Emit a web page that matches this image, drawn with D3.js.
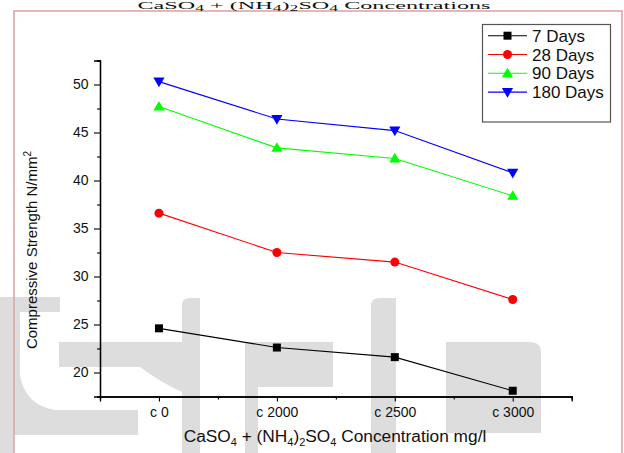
<!DOCTYPE html>
<html>
<head>
<meta charset="utf-8">
<script src="https://cdn.jsdelivr.net/npm/d3@7"></script>
<style>
  html, body { margin: 0; padding: 0; background: #fff; }
  svg { display: block; }
  text { font-family: "Liberation Sans", Arial, sans-serif; fill: #111; }
</style>
</head>
<body>
<svg id="chart" width="624" height="453"></svg>
<script>
// ---- data ----
const categories = ["c 0", "c 2000", "c 2500", "c 3000"];
const seriesNames = ["7 Days", "28 Days", "90 Days", "180 Days"];
const days7   = [24.6, 22.6, 21.6, 18.1];
const days28  = [36.6, 32.5, 31.5, 27.6];
const days90  = [47.7, 43.4, 42.3, 38.4];
const days180 = [50.3, 46.4, 45.2, 40.8];
const yTicks = [20, 25, 30, 35, 40, 45, 50];
const seriesColors = ["#000000", "#ff0000", "#00ff00", "#0000ff"];
const seriesSymbols = ["square", "circle", "triUp", "triDown"];

const series = [days7, days28, days90, days180].map((vals, i) => ({
  name: seriesNames[i], values: vals, color: seriesColors[i], symbol: seriesSymbols[i]
}));

const svg = d3.select("#chart");

// ---- background watermark & frame ----
const wm = svg.append("g").attr("fill", "#dddddd").attr("stroke", "none");
wm.append("path").attr("d", "M0,297 H60 V312 H20 V375 Q25,405 55,410 H138 V435 H14 V453 H0 Z");
wm.append("path").attr("d", "M59,342 H200 V367 H182 V392 Q160,382 140,367 H59 Z");
wm.append("path").attr("d", "M182,305 Q182,298 190,298 H200 V453 H182 Z");
wm.append("path").attr("d", "M245,342 H333 V387 H258 V453 H245 Z");
wm.append("path").attr("d", "M371,306 Q371,298 380,298 H396 V453 H371 Z");
wm.append("path").attr("d", "M446,342 H530 Q541,342 541,353 V433 H446 Z");

svg.append("rect")
  .attr("x", 14).attr("y", 11).attr("width", 608).attr("height", 460)
  .attr("fill", "none").attr("stroke", "#e2a4a4").attr("stroke-width", 1.6);

// ---- title (kept fully visible in the thin strip above the frame) ----
const title = svg.append("text")
  .attr("transform", "translate(314,9) scale(2.2,1)")
  .attr("text-anchor", "middle")
  .style("font-family", "'Liberation Serif', 'DejaVu Serif', serif")
  .style("font-size", "11px");
title.append("tspan").text("CaSO");
title.append("tspan").attr("dy", 1.5).style("font-size", "8px").text("4");
title.append("tspan").attr("dy", -1.5).text(" + (NH");
title.append("tspan").attr("dy", 1.5).style("font-size", "8px").text("4");
title.append("tspan").attr("dy", -1.5).text(")");
title.append("tspan").attr("dy", 1.5).style("font-size", "8px").text("2");
title.append("tspan").attr("dy", -1.5).text("SO");
title.append("tspan").attr("dy", 1.5).style("font-size", "8px").text("4");
title.append("tspan").attr("dy", -1.5).text(" Concentrations");

// ---- scales ----
const x = d3.scaleLinear().domain([-0.5, categories.length - 0.5]).range([100, 571.7]);
const y = d3.scaleLinear().domain([17.5, 52.5]).range([396.5, 60.5]);

// ---- axes ----
const yAxis = d3.axisLeft(y).tickValues(yTicks).tickSize(6).tickPadding(5.5).tickFormat(d3.format("d"));
const yMinor = d3.axisLeft(y).tickValues(d3.range(17.5, 53, 5)).tickSize(3).tickFormat("");
const xAxis = d3.axisBottom(x).tickValues(d3.range(categories.length)).tickSize(5).tickPadding(5.5)
  .tickFormat(i => categories[i]);
const xMinor = d3.axisBottom(x).tickValues(d3.range(-0.5, categories.length, 1)).tickSize(3).tickFormat("");

function styleAxis(g) {
  g.select(".domain").attr("stroke", "#000").attr("stroke-width", 1.3);
  g.selectAll(".tick line").attr("stroke", "#000").attr("stroke-width", 1.1);
  g.selectAll(".tick text").style("font-size", "14px")
    .style("font-family", "'Liberation Sans', Arial, sans-serif").attr("fill", "#111");
}

svg.append("g").attr("transform", "translate(100,0)").call(yMinor).call(styleAxis);
svg.append("g").attr("transform", "translate(100,0)").call(yAxis).call(styleAxis);
svg.append("g").attr("transform", "translate(0,396.5)").call(xMinor).call(styleAxis);
svg.append("g").attr("transform", "translate(0,396.5)").call(xAxis).call(styleAxis);

// ---- axis titles ----
const xt = svg.append("text").attr("x", 335).attr("y", 442).attr("text-anchor", "middle")
  .style("font-size", "17.3px");
xt.append("tspan").text("CaSO");
xt.append("tspan").attr("dy", 4).style("font-size", "11px").text("4");
xt.append("tspan").attr("dy", -4).text(" + (NH");
xt.append("tspan").attr("dy", 4).style("font-size", "11px").text("4");
xt.append("tspan").attr("dy", -4).text(")");
xt.append("tspan").attr("dy", 4).style("font-size", "11px").text("2");
xt.append("tspan").attr("dy", -4).text("SO");
xt.append("tspan").attr("dy", 4).style("font-size", "11px").text("4");
xt.append("tspan").attr("dy", -4).text(" Concentration mg/l");

const yt = svg.append("text").attr("transform", "translate(37,250) rotate(-90)")
  .attr("text-anchor", "middle").style("font-size", "15px");
yt.append("tspan").text("Compressive Strength N/mm");
yt.append("tspan").attr("dy", -6).style("font-size", "10px").text("2");

// ---- markers ----
function drawMarker(g, sym, color) {
  let d;
  if (sym === "triUp") d = "M0,-5.6 L5.6,4 L-5.6,4 Z";
  else if (sym === "triDown") d = "M0,5.6 L5.6,-4 L-5.6,-4 Z";
  else if (sym === "square") d = d3.symbol(d3.symbolSquare, 64)();
  else d = d3.symbol(d3.symbolCircle, 64)();
  g.append("path").attr("d", d).attr("fill", color);
}

// ---- lines ----
const line = d3.line().x((d, i) => x(i)).y(d => y(d));
series.forEach(s => {
  svg.append("path").datum(s.values).attr("d", line)
    .attr("fill", "none").attr("stroke", s.color).attr("stroke-width", 1.1);
  s.values.forEach((v, i) => {
    const g = svg.append("g").attr("transform", `translate(${x(i)},${y(v)})`);
    drawMarker(g, s.symbol, s.color);
  });
});

// ---- legend ----
const lg = svg.append("g");
lg.append("rect").attr("x", 482.5).attr("y", 24.5).attr("width", 128).attr("height", 97.5)
  .attr("fill", "#fff").attr("stroke", "#555").attr("stroke-width", 1.2);
series.forEach((s, i) => {
  const cy = 35.7 + i * 18.8;
  lg.append("line").attr("x1", 488).attr("x2", 527).attr("y1", cy).attr("y2", cy)
    .attr("stroke", s.color).attr("stroke-width", 1.1);
  const g = lg.append("g").attr("transform", `translate(507.5,${cy})`);
  drawMarker(g, s.symbol, s.color);
  lg.append("text").attr("x", 532).attr("y", cy + 6).style("font-size", "17px").text(s.name);
});
</script>
</body>
</html>
